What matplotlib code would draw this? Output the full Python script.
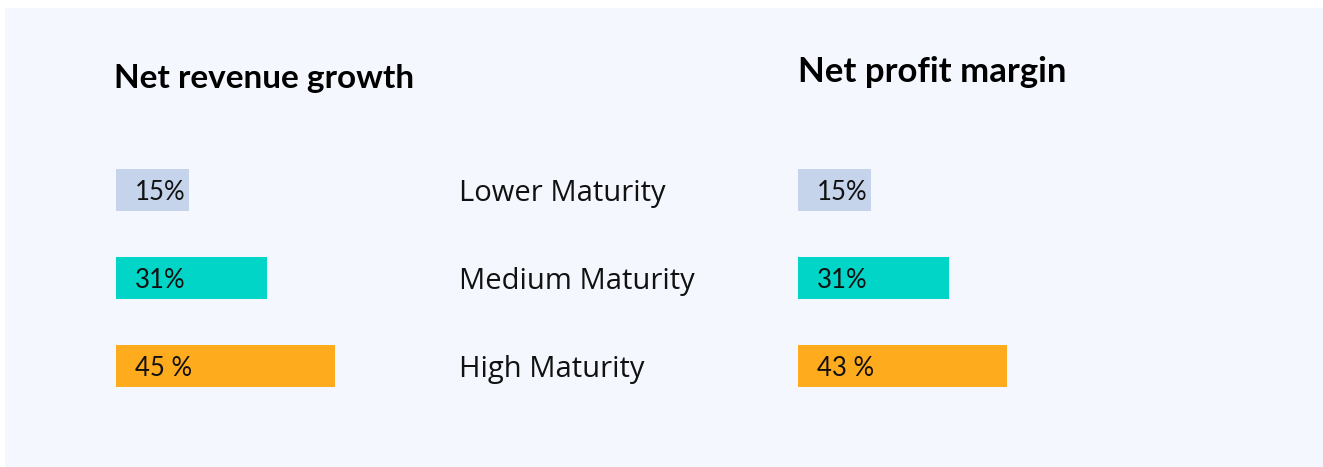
import matplotlib
matplotlib.use("Agg")
import matplotlib.pyplot as plt
from matplotlib.patches import Rectangle
from matplotlib.transforms import blended_transform_factory

categories = ["Lower Maturity", "Medium Maturity", "High Maturity"]
revenue_growth = [15, 31, 45]
revenue_labels = ["15%", "31%", "45 %"]
profit_margin = [15, 31, 43]
profit_labels = ["15%", "31%", "43 %"]
bar_colors = ["#C5D4EB", "#00D5C8", "#FFAB1E"]
titles = ["Net revenue growth", "Net profit margin"]

W, H = 1323, 467
fig = plt.figure(figsize=(W / 100, H / 100), dpi=100)
fig.patch.set_facecolor("white")
fig.add_artist(Rectangle((5 / W, 0), 1 - 5 / W, 1 - 8 / H, transform=fig.transFigure,
                         facecolor="#F4F8FE", edgecolor="none", zorder=0))

px_per_unit = 4.87
xmax = 50
ax_w = px_per_unit * xmax
top_px, bot_px = 146, 410

def make_ax(left_px):
    ax = fig.add_axes([left_px / W, (H - bot_px) / H, ax_w / W, (bot_px - top_px) / H])
    ax.set_facecolor("none")
    ax.set_xlim(0, xmax)
    ax.set_ylim(len(categories) - 0.5, -0.5)
    ax.axis("off")
    return ax

value_font = dict(family=["Lato", "DejaVu Sans"], fontsize=18.5, color="#111111")

ax1 = make_ax(116)
ax1.barh(range(len(categories)), revenue_growth, height=0.477, color=bar_colors, zorder=2)
for i, lab in enumerate(revenue_labels):
    ax1.text(19 / px_per_unit, i, lab, va="center_baseline", ha="left", zorder=3, **value_font)

ax2 = make_ax(798)
ax2.barh(range(len(categories)), profit_margin, height=0.477, color=bar_colors, zorder=2)
for i, lab in enumerate(profit_labels):
    ax2.text(19 / px_per_unit, i, lab, va="center_baseline", ha="left", zorder=3, **value_font)

tr = blended_transform_factory(fig.transFigure, ax1.transData)
for i, c in enumerate(categories):
    fig.text(459 / W, i, c, transform=tr, va="center_baseline", ha="left",
             family=["Open Sans", "DejaVu Sans"], fontsize=21, color="#111111")

fig.text(114 / W, 1 - 88 / H, titles[0], ha="left", va="baseline",
         family=["Lato", "DejaVu Sans"], fontweight="bold", fontsize=24, color="black")
fig.text(798 / W, 1 - 82 / H, titles[1], ha="left", va="baseline",
         family=["Lato", "DejaVu Sans"], fontweight="bold", fontsize=25, color="black")

fig.savefig("out.png", dpi=100, facecolor=fig.get_facecolor())
